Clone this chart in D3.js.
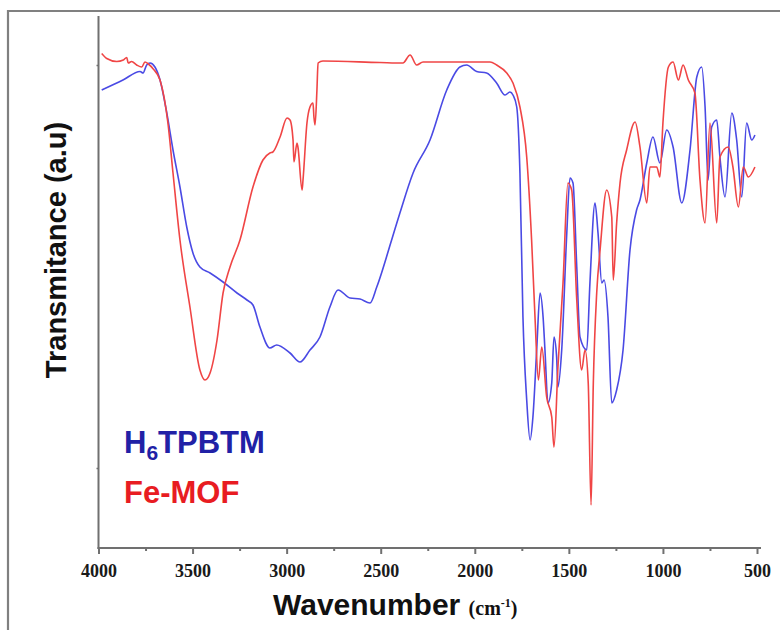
<!DOCTYPE html>
<html>
<head>
<meta charset="utf-8">
<script src="https://cdn.jsdelivr.net/npm/d3@7"></script>
<style>
  body { margin: 0; background: #fff; }
</style>
</head>
<body>
<div id="chart"></div>
<script>
// FT-IR spectra, wavenumber (cm-1) vs transmittance (a.u.)
const ligandWavenumber = [3983, 3870, 3779, 3763, 3744, 3726, 3700, 3673, 3637, 3604, 3567, 3531, 3498, 3461, 3407, 3338, 3264, 3211, 3179, 3142, 3089, 3053, 2982, 2929, 2876, 2823, 2770, 2727, 2663, 2610, 2557, 2521, 2442, 2398, 2328, 2238, 2149, 2079, 2043, 1990, 1937, 1884, 1839, 1813, 1797, 1777, 1760, 1744, 1724, 1706, 1691, 1671, 1653, 1637, 1627, 1611, 1591, 1579, 1565, 1558, 1538, 1511, 1494, 1478, 1458, 1441, 1405, 1388, 1361, 1345, 1325, 1313, 1292, 1272, 1246, 1212, 1175, 1140, 1122, 1086, 1053, 1016, 980, 946, 900, 856, 820, 794, 776, 760, 741, 714, 697, 670, 634, 608, 581, 555, 528, 511];
const ligandT = [91.6, 93.6, 95.3, 95.0, 96.6, 97.0, 96.2, 93.6, 87.0, 79.6, 72.2, 64.2, 59.0, 56.2, 55.0, 53.2, 51.0, 49.6, 48.6, 44.2, 40.0, 40.6, 39.0, 37.2, 39.6, 42.2, 48.2, 51.6, 50.0, 49.8, 49.0, 52.2, 61.6, 67.0, 75.0, 81.6, 91.6, 96.2, 96.6, 95.3, 95.0, 93.0, 90.6, 91.2, 90.6, 88.2, 75.0, 46.2, 29.6, 21.6, 26.2, 39.6, 51.0, 46.2, 39.6, 29.0, 33.0, 42.2, 38.2, 32.2, 39.6, 63.0, 74.0, 73.0, 56.2, 42.2, 39.6, 53.0, 69.0, 63.0, 53.0, 53.6, 46.2, 29.0, 31.6, 39.6, 59.6, 67.6, 69.6, 77.0, 82.2, 77.0, 83.6, 80.2, 69.0, 79.6, 94.2, 96.2, 88.2, 73.6, 84.2, 85.6, 78.2, 70.2, 87.0, 81.6, 70.2, 85.0, 81.6, 82.6];

const mofWavenumber = [3983, 3956, 3903, 3868, 3850, 3842, 3824, 3797, 3770, 3753, 3735, 3709, 3673, 3631, 3604, 3567, 3514, 3461, 3434, 3407, 3370, 3338, 3301, 3248, 3179, 3126, 3089, 3073, 3035, 2998, 2982, 2966, 2961, 2945, 2940, 2918, 2913, 2892, 2876, 2860, 2855, 2849, 2839, 2833, 2807, 2504, 2382, 2344, 2309, 2275, 1919, 1884, 1830, 1797, 1760, 1724, 1698, 1680, 1662, 1644, 1618, 1591, 1579, 1558, 1531, 1505, 1485, 1458, 1432, 1414, 1397, 1382, 1370, 1352, 1334, 1299, 1272, 1264, 1246, 1228, 1193, 1148, 1122, 1086, 1069, 1033, 1016, 1000, 971, 946, 918, 893, 865, 830, 803, 776, 750, 714, 697, 653, 628, 599, 573, 546, 511];
const mofT = [98.9, 97.9, 97.3, 97.6, 98.1, 97.0, 97.3, 96.6, 96.2, 97.2, 96.8, 95.8, 93.6, 85.0, 75.0, 61.6, 48.2, 35.6, 33.6, 35.0, 41.6, 51.0, 56.2, 61.6, 72.2, 77.6, 79.0, 79.2, 82.2, 86.0, 85.6, 81.6, 77.2, 81.0, 80.2, 71.6, 73.6, 85.0, 88.2, 89.0, 86.2, 84.6, 91.6, 97.0, 97.4, 97.1, 97.0, 98.6, 96.6, 97.2, 97.2, 96.6, 95.0, 93.0, 88.2, 78.2, 61.6, 46.2, 33.6, 40.2, 30.2, 26.2, 20.2, 36.2, 53.0, 73.0, 71.6, 49.6, 35.6, 39.6, 33.0, 8.6, 33.0, 51.0, 59.6, 71.6, 66.2, 53.6, 65.0, 73.0, 79.6, 85.2, 80.2, 69.0, 76.2, 76.2, 74.2, 85.0, 96.2, 97.2, 93.6, 96.6, 93.6, 91.0, 73.6, 65.0, 85.0, 65.0, 78.2, 80.2, 76.2, 68.2, 76.2, 74.2, 76.2];

const majorTicks = [4000, 3500, 3000, 2500, 2000, 1500, 1000, 500];
const minorTicks = [3750, 3250, 2750, 2250, 1750, 1250, 750];
const yTicks = [16, 96.6];

const width = 780,
    height = 630;
const margin = { top: 16, right: 23, bottom: 82, left: 98.5 };

const svg = d3
    .select("#chart")
    .append("svg")
    .attr("width", width)
    .attr("height", height);

// outer frame (only top and left edges are visible in the figure)
svg.append("path")
    .attr("d", "M8,631V11H781")
    .attr("fill", "none")
    .attr("stroke", "#808080")
    .attr("stroke-width", 2.2);

const x = d3
    .scaleLinear()
    .domain([4000, 500])
    .range([margin.left, 757]);
const y = d3
    .scaleLinear()
    .domain([0, 106.4])
    .range([height - margin.bottom, margin.top]);

const axisColor = "#707070";

// x axis: minor ticks, then major ticks with labels
const xMinor = svg
    .append("g")
    .attr("transform", `translate(0, ${y(0)})`)
    .call(d3.axisBottom(x).tickValues(minorTicks).tickSize(3).tickFormat(""));
xMinor.select(".domain").remove();

const xMajor = svg
    .append("g")
    .attr("transform", `translate(0, ${y(0)})`)
    .call(
        d3
            .axisBottom(x)
            .tickValues(majorTicks)
            .tickSize(6)
            .tickPadding(10)
            .tickFormat(d3.format("d"))
    );
xMajor.select(".domain").remove();

svg.selectAll(".tick line")
    .attr("stroke", axisColor)
    .attr("stroke-width", 2);

xMajor
    .selectAll(".tick text")
    .attr("fill", "#1a1a1a")
    .style("font-family", "'Liberation Serif', 'Times New Roman', serif")
    .style("font-weight", "bold")
    .style("font-size", "18px");

svg.append("line")
    .attr("x1", margin.left - 1)
    .attr("x2", 761)
    .attr("y1", y(0))
    .attr("y2", y(0))
    .attr("stroke", axisColor)
    .attr("stroke-width", 2);

// y axis: unlabeled, two tiny ticks
const yAxis = svg
    .append("g")
    .attr("transform", `translate(${margin.left}, 0)`)
    .call(d3.axisLeft(y).tickValues(yTicks).tickSize(2).tickFormat(""));
yAxis.select(".domain").remove();
yAxis.selectAll(".tick line").attr("stroke", axisColor).attr("stroke-width", 1.5);

svg.append("line")
    .attr("x1", margin.left)
    .attr("x2", margin.left)
    .attr("y1", margin.top)
    .attr("y2", y(0) + 1)
    .attr("stroke", axisColor)
    .attr("stroke-width", 2);

// spectra
const line = d3
    .line()
    .x((d) => x(d[0]))
    .y((d) => y(d[1]))
    .curve(d3.curveMonotoneX);

const series = [
    { w: ligandWavenumber, t: ligandT, color: "#4a4ae4" },
    { w: mofWavenumber, t: mofT, color: "#f04545" },
];

series.forEach((s) => {
    svg.append("path")
        .datum(s.w.map((w, i) => [w, s.t[i]]))
        .attr("fill", "none")
        .attr("stroke", s.color)
        .attr("stroke-width", 1.6)
        .attr("stroke-linejoin", "round")
        .attr("d", line);
});

// legend
const legendFont = "'Liberation Sans', Arial, sans-serif";
const l1 = svg
    .append("text")
    .attr("x", 124)
    .attr("y", 453)
    .attr("fill", "#2121a6")
    .style("font-family", legendFont)
    .style("font-weight", "bold")
    .style("font-size", "31px");
l1.append("tspan").text("H");
l1.append("tspan").attr("dy", 7).style("font-size", "21px").text("6");
l1.append("tspan").attr("dy", -7).text("TPBTM");

svg.append("text")
    .attr("x", 124)
    .attr("y", 503)
    .attr("fill", "#e81c22")
    .style("font-family", legendFont)
    .style("font-weight", "bold")
    .style("font-size", "31px")
    .text("Fe-MOF");

// axis titles
svg.append("text")
    .attr("transform", "translate(66, 250) rotate(-90)")
    .attr("text-anchor", "middle")
    .attr("fill", "#111")
    .style("font-family", legendFont)
    .style("font-weight", "bold")
    .style("font-size", "29px")
    .text("Transmitance (a.u)");

const xt = svg
    .append("text")
    .attr("x", 273)
    .attr("y", 615)
    .attr("fill", "#111");
xt.append("tspan")
    .style("font-family", legendFont)
    .style("font-weight", "bold")
    .style("font-size", "30px")
    .text("Wavenumber ");
xt.append("tspan")
    .style("font-family", "'Liberation Serif', 'Times New Roman', serif")
    .style("font-weight", "bold")
    .style("font-size", "20px")
    .text("(cm");
xt.append("tspan")
    .attr("dy", -8)
    .style("font-family", "'Liberation Serif', 'Times New Roman', serif")
    .style("font-weight", "bold")
    .style("font-size", "12px")
    .text("-1");
xt.append("tspan")
    .attr("dy", 8)
    .style("font-family", "'Liberation Serif', 'Times New Roman', serif")
    .style("font-weight", "bold")
    .style("font-size", "20px")
    .text(")");
</script>
</body>
</html>
